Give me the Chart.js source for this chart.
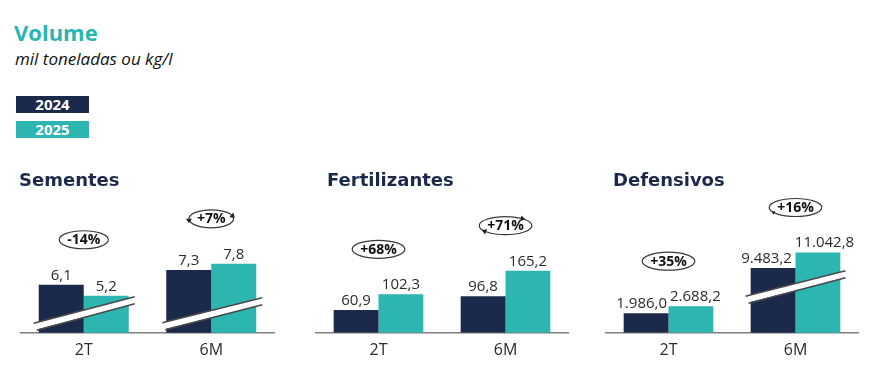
<!DOCTYPE html>
<html><head><meta charset="utf-8">
<script src="https://cdn.jsdelivr.net/npm/chart.js@4"></script>
<style>
body{margin:0;width:886px;height:379px;background:#fff;position:relative;overflow:hidden;}
.abs{position:absolute;white-space:nowrap;}
#title{left:14px;top:21px;font:bold 22px/22px 'Open Sans';color:#29b6b0;}
#sub{left:15px;top:50px;font:italic 17px/17px 'Open Sans';color:#111;}
.leg{left:16px;width:73px;height:17px;color:#fff;font:bold 15px/17px 'Open Sans';text-align:center;}
.ptitle{top:171px;font:bold 18px/18px 'DejaVu Sans';color:#1b2a4a;z-index:2;}
canvas{position:absolute;}
</style></head><body>
<div id="title" class="abs">Volume</div>
<div id="sub" class="abs">mil toneladas ou kg/l</div>
<div class="abs leg" style="top:96px;background:#1b2a4b">2024</div>
<div class="abs leg" style="top:121px;background:#2db5b1">2025</div>
<div class="abs ptitle" style="left:19px">Sementes</div>
<div class="abs ptitle" style="left:327px">Fertilizantes</div>
<div class="abs ptitle" style="left:613px">Defensivos</div>
<canvas id="c0" width="255" height="180" style="left:20px;top:180px"></canvas>
<canvas id="c1" width="254" height="180" style="left:315px;top:180px"></canvas>
<canvas id="c2" width="254" height="180" style="left:605px;top:180px"></canvas>
<script>
// ---- data ----
const categories = ['2T', '6M'];
const years = ['2024', '2025'];
const sementes2024 = [6.1, 7.3];
const sementes2025 = [5.2, 7.8];
const sementesChange = ['-14%', '+7%'];
const fertilizantes2024 = [60.9, 96.8];
const fertilizantes2025 = [102.3, 165.2];
const fertilizantesChange = ['+68%', '+71%'];
const defensivos2024 = [1986.0, 9483.2];
const defensivos2025 = [2688.2, 11042.8];
const defensivosChange = ['+35%', '+16%'];

const NAVY = '#1b2a4b', TEAL = '#2db5b1';

function fmt(v){
  const s = v.toFixed(1).split('.');
  return s[0].replace(/\B(?=(\d{3})+(?!\d))/g, '.') + ',' + s[1];
}

const panels = [
  {id:'c0', a:sementes2024, b:sementes2025, chg:sementesChange,
   y:{min:2.2,max:14.6}, y2:{min:2.2,max:14.6},
   breaks:[{l:-50,r:51,yl:-6,yr:-32.5},{l:-49,r:51,yl:-6.5,yr:-31.5}],
   arrows:[[],[{t:Math.PI,s:-1},{t:-0.45,s:1}]]},
  {id:'c1', a:fertilizantes2024, b:fertilizantes2025, chg:fertilizantesChange,
   y:{min:0,max:406}, y2:{min:0,max:406},
   breaks:[null,null],
   arrows:[[],[{t:-0.95,s:1},{t:2.4,s:1}]]},
  {id:'c2', a:defensivos2024, b:defensivos2025, chg:defensivosChange,
   y:{min:0,max:15455}, y2:{min:2920,max:18375},
   breaks:[null,{l:-50,r:50,yl:-33,yr:-58.5}],
   arrows:[[],[{t:2.5,s:1,small:true}]]}
];

const overlay = {
  id:'overlay',
  afterDatasetsDraw(chart, args, opts){
    const ctx = chart.ctx, p = opts.panel;
    const xs = chart.scales.x, base = chart.chartArea.bottom;
    // break bands
    p.breaks.forEach((b, i) => {
      if (!b) return;
      const cx = xs.getPixelForValue(i);
      const xl = cx + b.l, xr = cx + b.r, yl = base + b.yl, yr = base + b.yr, h = 3.5;
      ctx.save();
      ctx.fillStyle = '#fff';
      ctx.beginPath();
      ctx.moveTo(xl, yl - h); ctx.lineTo(xr, yr - h); ctx.lineTo(xr, yr + h); ctx.lineTo(xl, yl + h);
      ctx.closePath(); ctx.fill();
      ctx.strokeStyle = '#4a4a4a'; ctx.lineWidth = 1.6;
      ctx.beginPath(); ctx.moveTo(xl, yl - h); ctx.lineTo(xr, yr - h); ctx.stroke();
      ctx.beginPath(); ctx.moveTo(xl + 3, yl + h); ctx.lineTo(xr, yr + h); ctx.stroke();
      ctx.restore();
    });
    // value labels (pushed apart if the pair in a category would collide)
    const tops = [Infinity, Infinity];
    const items = [[], []];
    ctx.save();
    ctx.font = '15px "Open Sans"';
    ctx.fillStyle = '#2b2b2b';
    ctx.textAlign = 'center';
    ctx.textBaseline = 'alphabetic';
    chart.data.datasets.forEach((ds, di) => {
      const meta = chart.getDatasetMeta(di);
      meta.data.forEach((el, i) => {
        const v = ds.data[i];
        if (v === null || v === undefined) return;
        const t = fmt(v);
        items[i].push({t, x:el.x, y:el.y, w:ctx.measureText(t).width});
        tops[i] = Math.min(tops[i], el.y);
      });
    });
    items.forEach(list => {
      if (list.length === 2) {
        const [L, R] = list;
        const gap = (R.x - R.w / 2) - (L.x + L.w / 2);
        if (gap < 3) { const d = (3 - gap) / 2; L.x -= d; R.x += d; }
      }
      list.forEach(it => ctx.fillText(it.t, it.x, it.y - 5));
    });
    ctx.restore();
    // change ellipses
    p.chg.forEach((txt, i) => {
      const cx = xs.getPixelForValue(i), cy = tops[i] - 45;
      ctx.save();
      ctx.font = 'bold 14px "Open Sans"';
      const w = ctx.measureText(txt).width;
      const rx = w / 2 + 8, ry = 9;
      ctx.strokeStyle = '#3a3a3a'; ctx.lineWidth = 1.2;
      ctx.beginPath(); ctx.ellipse(cx, cy, rx, ry, 0, 0, Math.PI * 2); ctx.stroke();
      ctx.fillStyle = '#111';
      ctx.textAlign = 'center'; ctx.textBaseline = 'middle';
      ctx.fillText(txt, cx, cy + 0.5);
      (p.arrows[i] || []).forEach(a => {
        const px = cx + rx * Math.cos(a.t), py = cy + ry * Math.sin(a.t);
        let tx = -rx * Math.sin(a.t) * a.s, ty = ry * Math.cos(a.t) * a.s;
        const n = Math.hypot(tx, ty); tx /= n; ty /= n;
        const L = a.small ? 3 : 4.5, W = a.small ? 2 : 3;
        ctx.fillStyle = '#222';
        ctx.beginPath();
        ctx.moveTo(px + tx * L, py + ty * L);
        ctx.lineTo(px - ty * W, py + tx * W);
        ctx.lineTo(px + ty * W, py - tx * W);
        ctx.closePath(); ctx.fill();
      });
      ctx.restore();
    });
  }
};

panels.forEach(p => {
  const datasets = [
    {label:years[0] + ' ' + categories[0], data:[p.a[0], null], backgroundColor:NAVY, yAxisID:'y'},
    {label:years[1] + ' ' + categories[0], data:[p.b[0], null], backgroundColor:TEAL, yAxisID:'y'},
    {label:years[0] + ' ' + categories[1], data:[null, p.a[1]], backgroundColor:NAVY, yAxisID:'y2'},
    {label:years[1] + ' ' + categories[1], data:[null, p.b[1]], backgroundColor:TEAL, yAxisID:'y2'}
  ];
  new Chart(document.getElementById(p.id), {
    type:'bar',
    data:{labels:categories, datasets},
    plugins:[overlay],
    options:{
      responsive:false, animation:false, devicePixelRatio:1,
      layout:{padding:0},
      datasets:{bar:{categoryPercentage:0.706, barPercentage:1, skipNull:true, borderWidth:0}},
      plugins:{legend:{display:false}, tooltip:{enabled:false}, overlay:{panel:p}},
      scales:{
        x:{grid:{display:false}, border:{display:true, color:'#7f7f7f', width:1.5},
           ticks:{color:'#2b2b2b', font:{family:'Open Sans', size:16}, padding:0}},
        y:{display:false, min:p.y.min, max:p.y.max},
        y2:{display:false, min:p.y2.min, max:p.y2.max}
      }
    }
  });
});
</script>
</body></html>
